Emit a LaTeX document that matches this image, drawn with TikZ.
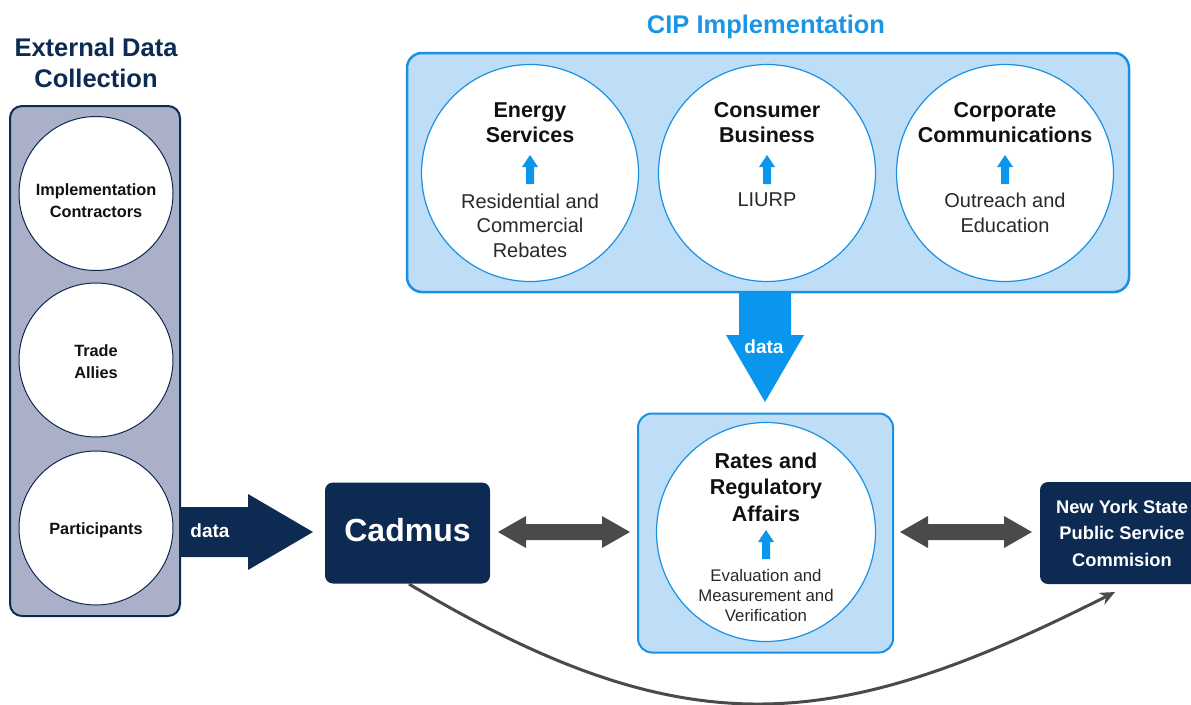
\documentclass[tikz,border=0pt]{standalone}
\usepackage{fontspec}
\setmainfont{Liberation Sans}
\usetikzlibrary{calc,arrows.meta}
\definecolor{navy}{HTML}{0C2A52}
\definecolor{panelgray}{HTML}{A9B0C8}
\definecolor{lightblue}{HTML}{BEDEF8}
\definecolor{bblue}{HTML}{1A90E2}
\definecolor{arrowblue}{HTML}{0A96EC}
\definecolor{cipblue}{HTML}{1B95E5}
\definecolor{darkgray}{HTML}{4A4A4A}
\definecolor{txt}{HTML}{111111}
\begin{document}
\begin{tikzpicture}[x=1pt,y=-1pt,
  box/.style={rectangle, inner sep=0pt, outer sep=0pt},
  extpanel/.style={box, rounded corners=12pt, fill=panelgray, draw=navy, line width=2pt, minimum width=170pt, minimum height=510pt},
  extcircle/.style={circle, fill=white, draw=navy, line width=1pt, minimum size=154pt, inner sep=0pt},
  exttext/.style={align=center, text=txt, font=\bfseries\fontsize{16.3}{22}\selectfont},
  bigtitle/.style={align=center, font=\bfseries\fontsize{25.5}{31}\selectfont},
  cippanel/.style={box, rounded corners=15pt, fill=lightblue, draw=bblue, line width=2.5pt},
  bluecircle/.style={circle, fill=white, draw=bblue, line width=1.2pt, minimum size=#1, inner sep=0pt},
  ctitle/.style={align=center, text=txt, font=\bfseries\fontsize{21.5}{25.5}\selectfont},
  csub/.style={align=center, text=txt!90!white, font=\fontsize{20}{24.5}\selectfont},
  rsub/.style={align=center, text=txt!90!white, font=\fontsize{16.8}{20}\selectfont},
  navybox/.style={box, rounded corners=8pt, fill=navy},
  whitetext/.style={align=center, text=white, font=\bfseries\fontsize{#1}{26.5}\selectfont},
  grayarrow/.style={fill=darkgray},
  smallup/.pic={\fill[arrowblue] (-4,29) -- (-4,12) -- (-8,12) -- (0,0) -- (8,12) -- (4,12) -- (4,29) -- cycle;}
]
\useasboundingbox (0,0) rectangle (1191,704);

% ---------- External Data Collection ----------
\node[bigtitle, text=navy] (exttitle) at (96,63) {External Data\\Collection};
\node[extpanel] (ext) at (95,361) {};
\node[extcircle] (c1) at (96,193.5) {};
\node[extcircle] (c2) at (96,360) {};
\node[extcircle] (c3) at (96,528) {};
\node[exttext] (t1) at (96,201) {Implementation\\Contractors};
\node[exttext] (t2) at (96,362) {Trade\\Allies};
\node[exttext] (t3) at (96,530) {Participants};

% ---------- CIP Implementation ----------
\node[bigtitle, text=cipblue] (ciptitle) at (766,27) {CIP Implementation};
\node[cippanel, minimum width=722pt, minimum height=239pt] (cip) at (768,172.5) {};
\node[bluecircle=217pt] (es) at (530,173) {};
\node[bluecircle=217pt] (cb) at (767,173) {};
\node[bluecircle=217pt] (cc) at (1005,173) {};
\node[ctitle] (est) at (530,122.5) {Energy\\Services};
\node[ctitle] (cbt) at (767,122.5) {Consumer\\Business};
\node[ctitle] (cct) at (1005,122.5) {Corporate\\Communications};
\pic at (530,155) {smallup};
\pic at (767,155) {smallup};
\pic at (1005,155) {smallup};
\node[csub] (ess) at (530,225.5) {Residential and\\Commercial\\Rebates};
\node[csub] (cbs) at (767,200) {LIURP};
\node[csub] (ccs) at (1005,213) {Outreach and\\Education};

% ---------- Rates and Regulatory Affairs ----------
\node[cippanel, rounded corners=14pt, line width=2pt, minimum width=255pt, minimum height=239pt] (rra) at (765.5,533) {};
\node[bluecircle=219pt] (rrac) at (766,532) {};
\node[ctitle, font=\bfseries\fontsize{21.5}{26.5}\selectfont] (rrat) at (766,487) {Rates and\\Regulatory\\Affairs};
\pic at (766,530) {smallup};
\node[rsub] (rras) at (766,595) {Evaluation and\\Measurement and\\Verification};

% ---------- Cadmus and NYS PSC ----------
\node[navybox, minimum width=165pt, minimum height=101pt] (cadmus) at (407.5,533) {};
\node[whitetext=32] (cadmust) at (407.5,530) {Cadmus};
\node[navybox, minimum width=165pt, minimum height=102pt] (nys) at (1122.5,533) {};
\node[whitetext=18.3] (nyst) at (1122,533) {New York State\\Public Service\\Commision};

% ---------- Block arrows ----------
% navy data arrow: external panel -> Cadmus
\fill[navy] (ext.east |- 0,507) -- (248,507) -- (248,494) -- (313,532) -- (248,570) -- (248,557) -- (ext.east |- 0,557) -- cycle;
\node[whitetext=19] (data1) at (210,531) {data};
% blue data arrow: CIP -> RRA
\fill[arrowblue] (739,292) -- (791,292) -- (791,335) -- (804,335) -- (765,402) -- (726,335) -- (739,335) -- cycle;
\node[whitetext=19] (data2) at (764,347) {data};
% gray double arrows
\fill[grayarrow] (498,532) -- (526,516) -- (526,524) -- (602,524) -- (602,516) -- (630,532) -- (602,548) -- (602,540) -- (526,540) -- (526,548) -- cycle;
\fill[grayarrow] (900,532) -- (928,516) -- (928,524) -- (1004,524) -- (1004,516) -- (1032,532) -- (1004,548) -- (1004,540) -- (928,540) -- (928,548) -- cycle;

% ---------- Curved arrow ----------
\coordinate (curvestart) at (409,584);
\coordinate (curveend) at (1115,592);
\draw[darkgray, line width=3pt, -{Stealth[length=15pt,width=13pt]}] (curvestart) .. controls (688,751) and (836,733) .. (curveend);
\end{tikzpicture}
\end{document}
